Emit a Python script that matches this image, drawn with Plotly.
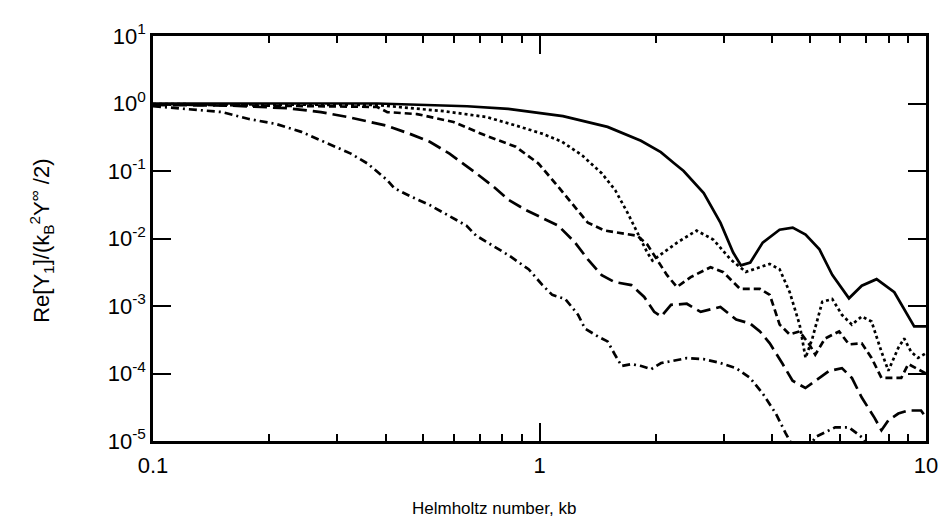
import plotly.graph_objects as go

# Helmholtz number kb and Re[Y1]/(kB^2 Y^inf/2) for five curves
solid_x = [0.1, 0.38, 0.65, 0.83, 1.15, 1.5, 1.83, 2.06, 2.23, 2.36, 2.66, 2.94, 3.17, 3.32,
           3.51, 3.78, 4.18, 4.52, 4.88, 5.3, 5.72, 6.32, 6.82, 7.45, 8.28, 9.32, 10]
solid_y = [1.0, 1.0, 0.91, 0.83, 0.65, 0.45, 0.28, 0.19, 0.13, 0.10, 0.047, 0.017, 0.0062, 0.0040,
           0.0044, 0.0087, 0.0135, 0.0145, 0.0114, 0.0069, 0.0029, 0.0013, 0.0020, 0.0025, 0.0016,
           0.0005, 0.0005]

dotted_x = [0.1, 0.38, 0.565, 0.73, 0.87, 1.02, 1.145, 1.29, 1.45, 1.57, 1.69, 1.79, 1.90, 1.96,
            2.10, 2.27, 2.55, 2.82, 3.12, 3.42, 3.94, 4.18, 4.44, 4.71, 4.88, 5.08, 5.39, 5.72,
            6.06, 6.43, 6.82, 7.23, 7.67, 7.99, 8.48, 8.78, 9.15, 9.54, 10]
dotted_y = [0.98, 0.95, 0.77, 0.63, 0.47, 0.355, 0.27, 0.17, 0.092, 0.052, 0.024, 0.0122, 0.0062,
            0.0047, 0.0062, 0.0087, 0.0131, 0.0096, 0.0049, 0.0032, 0.0042, 0.0035, 0.0016,
            0.00053, 0.00017, 0.00033, 0.00115, 0.00127, 0.00074, 0.00053, 0.0007, 0.00059,
            0.00021, 0.00011, 0.00024, 0.00033, 0.00021, 0.00017, 0.0002]

short_x = [0.1, 0.38, 0.404, 0.482, 0.599, 0.728, 0.868, 0.994, 1.099, 1.214, 1.334, 1.475, 1.689,
           1.791, 1.90, 2.015, 2.138, 2.268, 2.462, 2.77, 2.99, 3.305, 3.718, 3.943, 4.182, 4.437,
           4.706, 4.99, 5.17, 5.48, 5.96, 6.32, 6.82, 7.23, 7.67, 8.14, 8.63, 9.0, 10]
short_y = [0.97, 0.89, 0.746, 0.697, 0.532, 0.332, 0.229, 0.129, 0.0658, 0.0336, 0.0171, 0.0131,
           0.0114, 0.0110, 0.00815, 0.0049, 0.00286, 0.00191, 0.00268, 0.00375, 0.00317, 0.00179,
           0.00179, 0.00146, 0.00053, 0.00038, 0.00042, 0.00027, 0.00019, 0.00033, 0.00042,
           0.00027, 0.00028, 0.00017, 0.000086, 0.000086, 0.000086, 0.000138, 0.0001]

long_x = [0.1, 0.16, 0.224, 0.272, 0.319, 0.381, 0.404, 0.462, 0.52, 0.585, 0.635, 0.686, 0.758,
          0.833, 0.921, 1.018, 1.118, 1.236, 1.334, 1.449, 1.565, 1.729, 1.866, 1.98, 2.064, 2.189,
          2.405, 2.612, 2.938, 3.228, 3.506, 3.718, 3.943, 4.258, 4.516, 4.875, 5.17, 5.616, 6.06,
          6.43, 6.82, 7.36, 7.67, 7.99, 8.48, 9.0, 9.71, 10]
long_y = [0.95, 0.93, 0.85, 0.746, 0.631, 0.498, 0.466, 0.355, 0.271, 0.181, 0.129, 0.0923, 0.0595,
          0.0371, 0.0265, 0.0202, 0.0155, 0.0087, 0.0049, 0.00286, 0.00226, 0.00204, 0.00136,
          0.00082, 0.00070, 0.00104, 0.00108, 0.00082, 0.00097, 0.00063, 0.00055, 0.00042, 0.00028,
          0.000138, 0.000078, 0.000061, 0.000078, 0.000109, 0.00012, 0.000086, 0.000044, 0.000022,
          0.0000144, 0.0000202, 0.0000255, 0.0000283, 0.0000283, 0.0000223]

dashdot_x = [0.1, 0.124, 0.151, 0.177, 0.208, 0.242, 0.284, 0.325, 0.359, 0.404, 0.421, 0.462, 0.52,
             0.585, 0.647, 0.686, 0.758, 0.833, 0.937, 1.018, 1.079, 1.166, 1.258, 1.311, 1.416, 1.5,
             1.565, 1.631, 1.729, 1.834, 1.945, 2.064, 2.189, 2.405, 2.659, 2.938, 3.228, 3.506,
             3.784, 4.087, 4.335, 4.6, 4.93, 5.17, 5.82, 6.32, 6.82, 7.23]
dashdot_y = [0.913, 0.825, 0.746, 0.589, 0.498, 0.38, 0.254, 0.181, 0.129, 0.0729, 0.0556, 0.0425,
             0.0313, 0.0216, 0.0155, 0.011, 0.00787, 0.00562, 0.00351, 0.00204, 0.00146, 0.00127,
             0.000743, 0.000464, 0.000354, 0.000299, 0.000193, 0.000129, 0.000138, 0.000129,
             0.000116, 0.000143, 0.000152, 0.000169, 0.000163, 0.000143, 0.00012, 0.000086, 0.00005,
             0.0000255, 0.000013, 0.000007, 0.000007, 0.0000114, 0.0000159, 0.0000159, 0.0000114,
             0.000007]

series = [
    (solid_x, solid_y, "solid"),
    (dotted_x, dotted_y, "dot"),
    (short_x, short_y, "7px,4px"),
    (long_x, long_y, "14px,6px"),
    (dashdot_x, dashdot_y, "8px,4px,2px,4px"),
]

x_tickvals = [0.1, 1, 10]
x_ticktext = ["0.1", "1", "10"]
y_tickvals = [10, 1, 0.1, 0.01, 0.001, 0.0001, 0.00001]
y_ticktext = ["10<sup>1</sup>", "10<sup>0</sup>", "10<sup>-1</sup>", "10<sup>-2</sup>",
              "10<sup>-3</sup>", "10<sup>-4</sup>", "10<sup>-5</sup>"]
x_title = "Helmholtz number, kb"
y_title = "Re[Y<sub>1</sub>]/(k<sub>B</sub><sup>2</sup>Y<sup>∞</sup> /2)"

fig = go.Figure()
for xs, ys, dash in series:
    fig.add_trace(go.Scatter(x=xs, y=ys, mode="lines",
                             line=dict(color="black", width=2.7, dash=dash),
                             showlegend=False, hoverinfo="skip"))

family = "Liberation Sans, Arial, Helvetica, sans-serif"

# page body has an 8px margin, so the figure is sized to fit the window
fig.update_layout(
    width=942, height=523,
    margin=dict(l=145, r=15, t=23, b=90),
    paper_bgcolor="white", plot_bgcolor="white",
    font=dict(family=family, size=22, color="black"),
    xaxis=dict(type="log", range=[-1, 1], tickmode="array", tickvals=x_tickvals,
               ticktext=x_ticktext, ticks="inside", ticklen=18, tickwidth=2,
               tickcolor="black", showline=True, linewidth=2.5, linecolor="black",
               mirror="ticks", showgrid=False, zeroline=False, ticklabelstandoff=3,
               minor=dict(ticks="inside", ticklen=7, tickwidth=1.5, tickcolor="black",
                          dtick="D1", showgrid=False)),
    yaxis=dict(type="log", range=[-5, 1], tickmode="array", tickvals=y_tickvals,
               ticktext=y_ticktext, ticks="inside", ticklen=18, tickwidth=2,
               tickcolor="black", showline=True, linewidth=2.5, linecolor="black",
               mirror="ticks", showgrid=False, zeroline=False),
    annotations=[
        dict(text=x_title, xref="paper", yref="paper", x=0.441, y=-0.166,
             xanchor="center", yanchor="middle", showarrow=False,
             font=dict(family=family, size=17, color="black")),
        dict(text=y_title, xref="paper", yref="paper", x=-0.1445, y=0.495,
             xanchor="center", yanchor="middle", showarrow=False, textangle=-90,
             font=dict(family=family, size=22, color="black")),
    ],
)

fig.write_html("out.html")
